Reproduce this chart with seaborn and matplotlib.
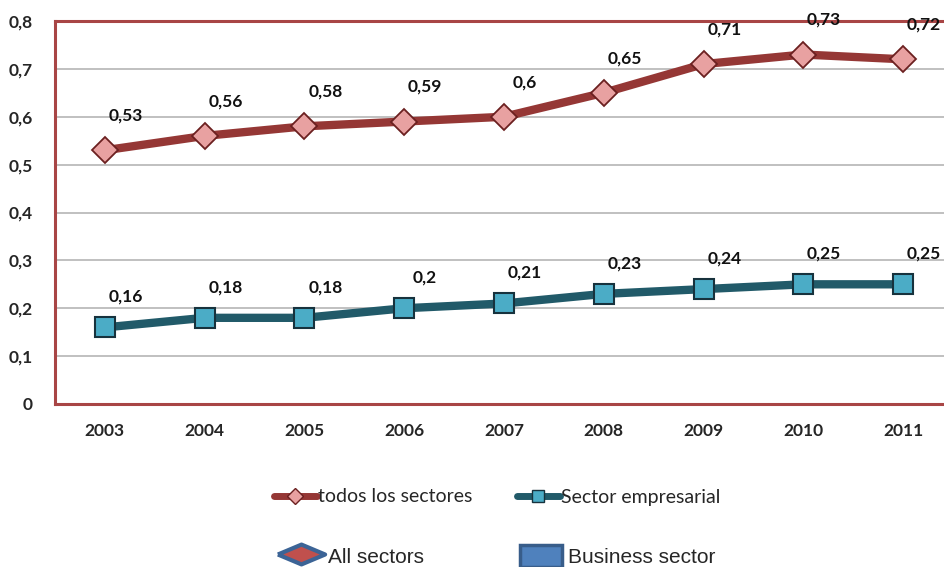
import matplotlib
matplotlib.use("Agg")
import matplotlib.pyplot as plt
import matplotlib.patches as mpatches
from matplotlib.lines import Line2D
from matplotlib.ticker import FuncFormatter, MultipleLocator
import seaborn as sns
import pandas as pd

# data
years = [2003, 2004, 2005, 2006, 2007, 2008, 2009, 2010, 2011]
todos = [0.53, 0.56, 0.58, 0.59, 0.60, 0.65, 0.71, 0.73, 0.72]
empresarial = [0.16, 0.18, 0.18, 0.20, 0.21, 0.23, 0.24, 0.25, 0.25]
series_names = ["todos los sectores", "Sector empresarial"]
extra_names = ["All sectors", "Business sector"]

df = pd.DataFrame({"year": years, series_names[0]: todos, series_names[1]: empresarial})

sns.set_style("white")
plt.rcParams["font.family"] = ["Lato", "DejaVu Sans"]

red_line = "#953735"
red_face = "#E8A1A1"
blue_line = "#215A69"
blue_face = "#4BACC6"
spine_col = "#A84545"

fig = plt.figure(figsize=(9.44, 5.67), dpi=100)
ax = fig.add_axes([55 / 944, 1 - 404 / 567, (953 - 55) / 944, (404 - 21) / 567])

sns.lineplot(data=df, x="year", y=series_names[0], ax=ax, color=red_line, lw=6,
             marker="D", markersize=13, markerfacecolor=red_face,
             markeredgecolor="#6B2020", markeredgewidth=1.3, zorder=3)
sns.lineplot(data=df, x="year", y=series_names[1], ax=ax, color=blue_line, lw=6,
             marker="s", markersize=15, markerfacecolor=blue_face,
             markeredgecolor="#17323D", markeredgewidth=1.5, zorder=3)

def fmt(v):
    s = f"{v:g}"
    return s.replace(".", ",")

for x, v in zip(years, todos):
    ax.annotate(fmt(v), (x, v), xytext=(15, 25), textcoords="offset points",
                ha="center", va="center", fontsize=12.5, fontweight="bold", color="#111111")
for x, v in zip(years, empresarial):
    ax.annotate(fmt(v), (x, v), xytext=(15, 22), textcoords="offset points",
                ha="center", va="center", fontsize=12.5, fontweight="bold", color="#111111")

ax.set_xlim(2002.5, 2011.5)
ax.set_ylim(0, 0.8)
ax.yaxis.set_major_locator(MultipleLocator(0.1))
ax.yaxis.set_major_formatter(FuncFormatter(lambda v, p: "0" if abs(v) < 1e-9 else f"{v:.1f}".replace(".", ",")))
ax.set_xticks(years)
ax.set_xticks([y + 0.5 for y in years[:-1]], minor=True)
ax.tick_params(axis="x", which="major", length=0, pad=14, labelsize=12.5)
ax.tick_params(axis="x", which="minor", length=5, color="#999999", direction="out")
ax.tick_params(axis="y", length=6, color="#999999", direction="out", pad=10, labelsize=12.5)
for lab in ax.get_xticklabels() + ax.get_yticklabels():
    lab.set_fontweight("bold")
ax.set_xlabel("")
ax.set_ylabel("")
ax.grid(axis="y", color="#B5B5B5", lw=1.2)
ax.set_axisbelow(True)
for side in ["left", "top", "bottom"]:
    ax.spines[side].set_color(spine_col)
    ax.spines[side].set_linewidth(2.2)
ax.spines["right"].set_visible(False)

# first legend (line series)
h1 = [Line2D([], [], color=red_line, lw=5, marker="D", markersize=8,
             markerfacecolor=red_face, markeredgecolor="#6B2020"),
      Line2D([], [], color=blue_line, lw=5, marker="s", markersize=9,
             markerfacecolor=blue_face, markeredgecolor="#17323D")]
fig.legend(h1, series_names, loc="center", bbox_to_anchor=(497 / 944, 1 - 497 / 567),
           ncol=2, frameon=False, fontsize=14, handlelength=2.2, handletextpad=0.05,
           columnspacing=2.3)

# second legend (English names)
diamond = [(-1, 0), (0, 0.42), (1, 0), (0, -0.42), (-1, 0)]
h2 = [Line2D([], [], lw=0, marker=diamond, markersize=34, markerfacecolor="#C0504D",
             markeredgecolor="#3C6496", markeredgewidth=3),
      mpatches.Rectangle((0, 0), 1, 1, facecolor="#4F81BD", edgecolor="#385D8A", lw=2.5)]
fig.legend(h2, extra_names, loc="center", bbox_to_anchor=(498 / 944, 1 - 556 / 567),
           ncol=2, frameon=False, prop={"family": "Liberation Sans", "size": 15},
           handlelength=2.0, handleheight=1.2, handletextpad=0.3, columnspacing=4.6)

fig.savefig("out.png", dpi=100)
